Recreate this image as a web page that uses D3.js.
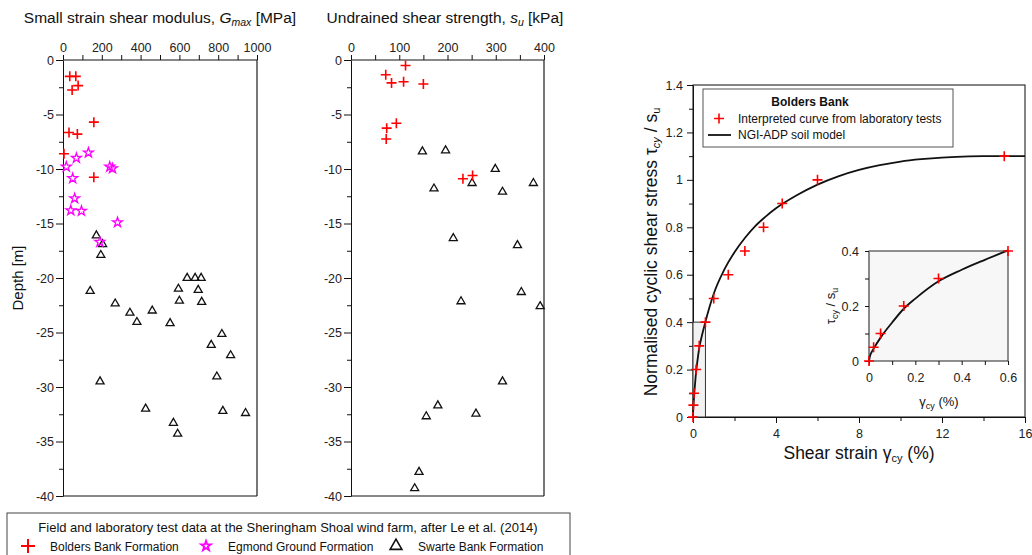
<!DOCTYPE html>
<html>
<head>
<meta charset="utf-8">
<script src="https://cdn.jsdelivr.net/npm/d3@7"></script>
<style>
body { margin: 0; background: #fff; }
svg { font-family: "Liberation Sans", Arial, sans-serif; }
.axis path, .axis line { stroke: #111; }
.axis text { font-size: 12.5px; fill: #222; font-family: "Liberation Sans", Arial, sans-serif; }
</style>
</head>
<body>
<div id="chart"></div>
<script>
// Gmax profile [MPa, depth m]
var bbGmax = [[35,-1.5],[66,-1.5],[78,-2.35],[47,-2.75],[159,-5.7],[31,-6.65],[74,-6.8],[5,-8.6],[159,-10.75]];
var egGmax = [[131,-8.5],[69,-9.0],[17,-9.8],[241,-9.8],[255,-9.95],[50,-10.85],[60,-12.7],[40,-13.8],[95,-13.85],[281,-14.9],[190,-16.7]];
var sbGmax = [[172,-16.1],[204,-16.9],[195,-17.9],[140,-21.2],[269,-22.35],[345,-23.2],[381,-24.05],[460,-23.0],
  [552,-24.15],[595,-21.0],[600,-22.1],[640,-20.0],[681,-20.0],[712,-20.0],[697,-21.1],[715,-22.2],[819,-25.15],
  [764,-26.15],[864,-27.1],[793,-29.05],[191,-29.5],[426,-32.0],[824,-32.2],[941,-32.4],[569,-33.3],[591,-34.3]];

// su profile [kPa, depth m]
var bbSu = [[113,-0.5],[72,-1.35],[84,-2.1],[109,-2.0],[150,-2.2],[94,-5.8],[74,-6.25],[73,-7.25],[232,-10.9],[252,-10.6]];
var sbSu = [[148,-8.4],[196,-8.3],[299,-10.0],[251,-11.3],[378,-11.3],[172,-11.8],[314,-12.1],[212,-16.35],[345,-17.0],
  [353,-21.3],[392,-22.6],[228,-22.15],[314,-29.5],[180,-31.7],[156,-32.7],[259,-32.45],[141,-37.8],[132,-39.3]];

// cyclic stress-strain [strain %, tau/su]
var labPts = [[0,0],[0.02,0.05],[0.05,0.1],[0.15,0.2],[0.3,0.3],[0.6,0.4],[1,0.5],[1.7,0.6],[2.5,0.7],[3.4,0.8],[4.3,0.9],[6,1.0],[15,1.1]];
var modelCurve = [[0,0],[0.005,0.02],[0.01,0.03],[0.02,0.045],[0.05,0.085],[0.1,0.14],[0.15,0.19],[0.2,0.227],[0.3,0.29],
  [0.4,0.332],[0.5,0.368],[0.6,0.402],[0.8,0.465],[1,0.52],[1.5,0.62],[2,0.695],[2.5,0.755],[3,0.805],[3.5,0.845],
  [4,0.88],[5,0.935],[6,0.98],[7,1.015],[8,1.042],[9,1.062],[10,1.077],[11,1.087],[12,1.094],[13,1.098],[14,1.1],[15,1.1],[16,1.1]];
var insetCurve = modelCurve.filter(function(d) { return d[0] <= 0.6; });

var gTicks = d3.range(0, 1001, 100);
var suTicks = d3.range(0, 401, 50);
var depthTicks = d3.range(0, -40.1, -2.5);

var svg = d3.select("#chart").append("svg").attr("width", 1032).attr("height", 555);

var xG = d3.scaleLinear().domain([0, 1000]).range([63, 257]);
var xS = d3.scaleLinear().domain([0, 400]).range([351, 544]);
var yD = d3.scaleLinear().domain([0, -40]).range([60, 496]);

var plusPath = "M-5,0H5M0,-5V5";
var starPath = d3.symbol().type(d3.symbolStar).size(30)();
var triPath = d3.symbol().type(d3.symbolTriangle).size(28)();

function drawPoints(g, data, xs, ys, type) {
  var sel = g.selectAll(null).data(data).enter().append("path")
    .attr("transform", d => `translate(${xs(d[0])},${ys(d[1])})`);
  if (type == "plus") sel.attr("d", plusPath).attr("stroke", "#ff0000").attr("stroke-width", 1.6).attr("fill", "none");
  if (type == "star") sel.attr("d", starPath).attr("stroke", "#ff00ff").attr("stroke-width", 1.3).attr("fill", "none");
  if (type == "tri") sel.attr("d", triPath).attr("stroke", "#111").attr("stroke-width", 1.3).attr("fill", "none");
}

function profilePanel(xs, ticks, labelStep) {
  var g = svg.append("g");
  var x0 = xs.range()[0], x1 = xs.range()[1];
  // right border
  g.append("line").attr("x1", x1).attr("x2", x1).attr("y1", yD(0)).attr("y2", yD(-40))
    .attr("stroke", "#777").attr("stroke-width", 2);
  g.append("line").attr("x1", x0).attr("x2", x1).attr("y1", yD(-40)).attr("y2", yD(-40))
    .attr("stroke", "#111");
  g.append("g").attr("class", "axis").attr("transform", `translate(0,${yD(0)})`)
    .call(d3.axisTop(xs).tickValues(ticks).tickSize(5).tickSizeOuter(0)
      .tickFormat(d => d % labelStep == 0 ? d : ""))
    .call(a => a.select(".domain").remove());
  g.append("line").attr("x1", x0).attr("x2", x1).attr("y1", yD(0)).attr("y2", yD(0)).attr("stroke", "#111");
  g.append("g").attr("class", "axis").attr("transform", `translate(${x0},0)`)
    .call(d3.axisLeft(yD).tickValues(depthTicks).tickSizeOuter(0).tickPadding(3)
      .tickFormat(d => d % 5 == 0 ? d : ""))
    .call(a => a.selectAll(".tick line").attr("x2", d => d % 5 == 0 ? -7 : -4));
  return g;
}

var p1 = profilePanel(xG, gTicks, 200);
var p2 = profilePanel(xS, suTicks, 100);

drawPoints(p1, sbGmax, xG, yD, "tri");
drawPoints(p1, egGmax, xG, yD, "star");
drawPoints(p1, bbGmax, xG, yD, "plus");
drawPoints(p2, sbSu, xS, yD, "tri");
drawPoints(p2, bbSu, xS, yD, "plus");

// panel titles
var t1 = svg.append("text").attr("x", 160).attr("y", 23).attr("text-anchor", "middle")
  .attr("font-size", 15.5).attr("fill", "#111");
t1.append("tspan").text("Small strain shear modulus, ");
t1.append("tspan").attr("font-style", "italic").text("G");
t1.append("tspan").attr("font-style", "italic").attr("font-size", 10.5).attr("dy", 3).text("max");
t1.append("tspan").attr("dy", -3).text(" [MPa]");

var t2 = svg.append("text").attr("x", 445).attr("y", 23).attr("text-anchor", "middle")
  .attr("font-size", 15.5).attr("fill", "#111");
t2.append("tspan").text("Undrained shear strength, ");
t2.append("tspan").attr("font-style", "italic").text("s");
t2.append("tspan").attr("font-style", "italic").attr("font-size", 10.5).attr("dy", 3).text("u");
t2.append("tspan").attr("dy", -3).text(" [kPa]");

svg.append("text").attr("transform", "translate(23,278) rotate(-90)").attr("text-anchor", "middle")
  .attr("font-size", 15).attr("fill", "#111").text("Depth [m]");

// bottom legend
var lg = svg.append("g");
lg.append("rect").attr("x", 7).attr("y", 513).attr("width", 563).attr("height", 60)
  .attr("fill", "#fff").attr("stroke", "#444").attr("stroke-width", 1);
lg.append("text").attr("x", 288).attr("y", 532).attr("text-anchor", "middle").attr("font-size", 13)
  .attr("fill", "#111").text("Field and laboratory test data at the Sheringham Shoal wind farm, after Le et al. (2014)");
var legItems = [["plus", 28, "Bolders Bank Formation"], ["star", 206, "Egmond Ground Formation"], ["tri", 396, "Swarte Bank Formation"]];
legItems.forEach(function(it) {
  var sym = lg.append("path").attr("transform", `translate(${it[1]},546)`).attr("fill", "none");
  if (it[0] == "plus") sym.attr("d", "M-7,0H7M0,-7V7").attr("stroke", "#ff0000").attr("stroke-width", 2);
  if (it[0] == "star") sym.attr("d", d3.symbol().type(d3.symbolStar).size(30)()).attr("stroke", "#ff00ff").attr("stroke-width", 1.8);
  if (it[0] == "tri") sym.attr("d", d3.symbol().type(d3.symbolTriangle).size(60)()).attr("stroke", "#111").attr("stroke-width", 1.6);
  lg.append("text").attr("x", it[1] + 22).attr("y", 550.5).attr("font-size", 12).attr("fill", "#111").text(it[2]);
});

// right panel
var xR = d3.scaleLinear().domain([0, 16]).range([693, 1025]);
var yR = d3.scaleLinear().domain([0, 1.4]).range([417, 85]);
var rp = svg.append("g");
rp.append("rect").attr("x", 693).attr("y", 85).attr("width", 332).attr("height", 332)
  .attr("fill", "none").attr("stroke", "#333").attr("stroke-width", 1.2);
rp.append("g").attr("class", "axis").attr("transform", "translate(0,417)")
  .call(d3.axisBottom(xR).tickValues(d3.range(0, 16.1, 2)).tickSizeOuter(0).tickPadding(6)
    .tickFormat(d => d % 4 == 0 ? d : ""))
  .call(a => a.selectAll(".tick line").attr("y2", d => d % 4 == 0 ? 6 : 4));
rp.append("g").attr("class", "axis").attr("transform", "translate(693,0)")
  .call(d3.axisLeft(yR).tickValues(d3.range(0, 1.41, 0.1)).tickSizeOuter(0).tickPadding(4)
    .tickFormat(d => Math.round(d * 10) % 2 == 0 ? d3.format("~g")(+d.toFixed(1)) : ""))
  .call(a => a.selectAll(".tick line").attr("x2", d => Math.round(d * 10) % 2 == 0 ? -6 : -4));

// shaded zoom window
rp.append("rect").attr("x", xR(0)).attr("y", yR(0.4)).attr("width", xR(0.6) - xR(0)).attr("height", yR(0) - yR(0.4))
  .attr("fill", "#f2f2f2").attr("stroke", "#333").attr("stroke-width", 1);

var line = d3.line().curve(d3.curveMonotoneX);
rp.append("path").attr("d", line.x(d => xR(d[0])).y(d => yR(d[1]))(modelCurve))
  .attr("fill", "none").attr("stroke", "#111").attr("stroke-width", 1.8);
drawPoints(rp, labPts, xR, yR, "plus");

var yl = rp.append("text").attr("transform", "translate(657,252) rotate(-90)").attr("text-anchor", "middle")
  .attr("font-size", 17.5).attr("fill", "#111");
yl.append("tspan").text("Normalised cyclic shear stress \u03c4");
yl.append("tspan").attr("font-size", 11).attr("dy", 3).attr("font-style", "italic").text("cy");
yl.append("tspan").attr("dy", -3).text(" / s");
yl.append("tspan").attr("font-size", 11).attr("dy", 3).text("u");

var xl = rp.append("text").attr("x", 859).attr("y", 459).attr("text-anchor", "middle")
  .attr("font-size", 17.5).attr("fill", "#111");
xl.append("tspan").text("Shear strain \u03b3");
xl.append("tspan").attr("font-size", 11).attr("dy", 3).text("cy");
xl.append("tspan").attr("dy", -3).text(" (%)");

// legend in right panel
var rl = rp.append("g");
rl.append("rect").attr("x", 703).attr("y", 89).attr("width", 250).attr("height", 58)
  .attr("fill", "#fff").attr("stroke", "#555").attr("stroke-width", 1);
rl.append("text").attr("x", 810).attr("y", 106).attr("text-anchor", "middle").attr("font-size", 12)
  .attr("font-weight", "bold").attr("fill", "#111").text("Bolders Bank");
rl.append("path").attr("d", plusPath).attr("transform", "translate(719,118.5)")
  .attr("stroke", "#ff0000").attr("stroke-width", 1.6).attr("fill", "none");
rl.append("text").attr("x", 738).attr("y", 123).attr("font-size", 12).attr("fill", "#111")
  .text("Interpreted curve from laboratory tests");
rl.append("line").attr("x1", 708).attr("x2", 731).attr("y1", 135).attr("y2", 135)
  .attr("stroke", "#111").attr("stroke-width", 1.8);
rl.append("text").attr("x", 738).attr("y", 139).attr("font-size", 12).attr("fill", "#111").text("NGI-ADP soil model");

// inset
var xI = d3.scaleLinear().domain([0, 0.6]).range([869, 1008]);
var yI = d3.scaleLinear().domain([0, 0.4]).range([361, 251]);
var ins = svg.append("g");
ins.append("rect").attr("x", 869).attr("y", 251).attr("width", 139).attr("height", 110)
  .attr("fill", "#f7f7f7").attr("stroke", "#222").attr("stroke-width", 1);
ins.append("line").attr("x1", 869).attr("x2", 869).attr("y1", 251).attr("y2", 361)
  .attr("stroke", "#888").attr("stroke-width", 2);
ins.append("g").attr("class", "axis").attr("transform", "translate(0,361)")
  .call(d3.axisBottom(xI).tickValues(d3.range(0, 0.61, 0.1)).tickSizeOuter(0).tickPadding(6)
    .tickFormat(d => Math.round(d * 10) % 2 == 0 ? d3.format("~g")(+d.toFixed(1)) : ""))
  .call(a => a.selectAll(".tick line").attr("y2", 4))
  .call(a => a.select(".domain").remove());
ins.append("g").attr("class", "axis").attr("transform", "translate(869,0)")
  .call(d3.axisLeft(yI).tickValues(d3.range(0, 0.41, 0.1)).tickSizeOuter(0).tickPadding(4)
    .tickFormat(d => Math.round(d * 10) % 2 == 0 ? d3.format("~g")(+d.toFixed(1)) : ""))
  .call(a => a.selectAll(".tick line").attr("x2", -4))
  .call(a => a.select(".domain").remove());
ins.append("path").attr("d", d3.line().curve(d3.curveMonotoneX).x(d => xI(d[0])).y(d => yI(d[1]))(insetCurve))
  .attr("fill", "none").attr("stroke", "#111").attr("stroke-width", 1.8);
drawPoints(ins, labPts.filter(d => d[0] <= 0.6), xI, yI, "plus");

var iyl = ins.append("text").attr("transform", "translate(835,306) rotate(-90)").attr("text-anchor", "middle")
  .attr("font-size", 13).attr("fill", "#111");
iyl.append("tspan").text("\u03c4");
iyl.append("tspan").attr("font-size", 9).attr("dy", 3).text("cy");
iyl.append("tspan").attr("dy", -3).text(" / s");
iyl.append("tspan").attr("font-size", 9).attr("dy", 3).text("u");

var ixl = ins.append("text").attr("x", 939).attr("y", 406).attr("text-anchor", "middle")
  .attr("font-size", 13).attr("fill", "#111");
ixl.append("tspan").text("\u03b3");
ixl.append("tspan").attr("font-size", 9).attr("dy", 3).text("cy");
ixl.append("tspan").attr("dy", -3).text(" (%)");
</script>
</body>
</html>
